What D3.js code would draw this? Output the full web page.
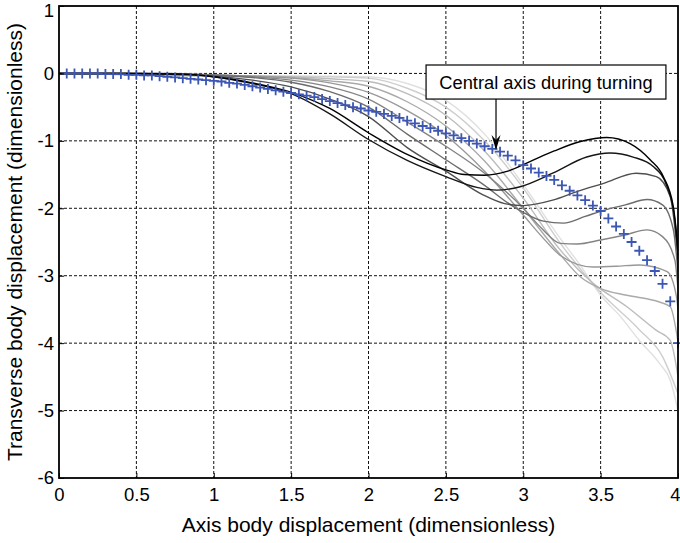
<!DOCTYPE html>
<html>
<head>
<meta charset="utf-8">
<script src="https://cdn.jsdelivr.net/npm/d3@7"></script>
<style>
  body { margin: 0; background: #fff; }
  svg text { font-family: "Liberation Sans", Arial, Helvetica, sans-serif; fill: #000; }
</style>
</head>
<body>
<svg id="chart" width="680" height="543"></svg>
<script>
// Axis ticks and labels
const xTicks = [0, 0.5, 1, 1.5, 2, 2.5, 3, 3.5, 4];
const xTickLabels = ["0", "0.5", "1", "1.5", "2", "2.5", "3", "3.5", "4"];
const yTicks = [-6, -5, -4, -3, -2, -1, 0, 1];
const yTickLabels = ["-6", "-5", "-4", "-3", "-2", "-1", "0", "1"];

// Body outlines at successive instants, [axis, transverse], darkest first
const trace1 = [[0,0],[0.4,0],[0.8,-0.01],[1.0,-0.05],[1.25,-0.14],[1.5,-0.28],[1.75,-0.52],[2.0,-0.88],[2.25,-1.2],[2.5,-1.43],[2.62,-1.5],[2.75,-1.51],[2.9,-1.45],[3.05,-1.3],[3.2,-1.15],[3.37,-1.01],[3.54,-0.95],[3.69,-1.04],[3.82,-1.28],[3.905,-1.53],[3.97,-1.98],[4.0,-2.6]];
const trace2 = [[0,0],[0.4,0],[0.8,-0.01],[1.0,-0.05],[1.25,-0.15],[1.5,-0.3],[1.75,-0.6],[2.0,-0.98],[2.25,-1.29],[2.5,-1.53],[2.7,-1.69],[2.83,-1.73],[2.98,-1.68],[3.19,-1.48],[3.41,-1.24],[3.56,-1.18],[3.71,-1.24],[3.84,-1.38],[3.93,-1.68],[3.98,-2.18],[4.0,-2.7]];
const trace3 = [[0,0],[0.5,0],[0.8,-0.02],[1.0,-0.04],[1.25,-0.1],[1.5,-0.2],[1.75,-0.38],[2.0,-0.64],[2.25,-1.1],[2.5,-1.45],[2.74,-1.8],[2.88,-1.93],[3.0,-1.96],[3.19,-1.88],[3.35,-1.75],[3.52,-1.63],[3.73,-1.48],[3.86,-1.53],[3.95,-1.83],[4.0,-2.75]];
const trace4 = [[0,0],[0.6,0],[0.9,-0.02],[1.25,-0.06],[1.5,-0.13],[1.75,-0.27],[2.0,-0.5],[2.25,-0.9],[2.5,-1.28],[2.75,-1.66],[2.9,-1.92],[3.0,-2.06],[3.13,-2.19],[3.26,-2.22],[3.4,-2.12],[3.52,-2.03],[3.66,-1.95],[3.8,-1.87],[3.9,-1.95],[3.97,-2.32],[4.0,-2.95]];
const trace5 = [[0,0],[0.7,0],[1.0,-0.02],[1.25,-0.05],[1.5,-0.1],[1.75,-0.2],[2.0,-0.38],[2.25,-0.72],[2.5,-1.08],[2.75,-1.48],[3.0,-2.0],[3.12,-2.3],[3.24,-2.52],[3.35,-2.53],[3.5,-2.47],[3.65,-2.4],[3.8,-2.32],[3.9,-2.42],[3.98,-2.77],[4.0,-3.2]];
const trace6 = [[0,0],[0.8,-0.01],[1.0,-0.02],[1.25,-0.04],[1.5,-0.07],[1.75,-0.14],[2.0,-0.28],[2.25,-0.55],[2.5,-0.92],[2.75,-1.45],[3.0,-2.1],[3.12,-2.42],[3.24,-2.7],[3.45,-2.87],[3.6,-2.86],[3.75,-2.84],[3.93,-2.94],[3.99,-3.31],[4.0,-3.5]];
const trace7 = [[0,0],[0.8,-0.02],[1.0,-0.03],[1.25,-0.04],[1.5,-0.06],[1.75,-0.11],[2.0,-0.19],[2.25,-0.42],[2.5,-0.78],[2.75,-1.3],[3.0,-2.0],[3.24,-2.69],[3.37,-3.02],[3.5,-3.19],[3.67,-3.29],[3.88,-3.39],[3.95,-3.46],[4.0,-3.98]];
const trace8 = [[0,0],[0.8,-0.03],[1.0,-0.04],[1.25,-0.04],[1.5,-0.05],[1.75,-0.08],[2.0,-0.12],[2.25,-0.3],[2.5,-0.62],[2.75,-1.15],[3.0,-1.85],[3.24,-2.62],[3.45,-3.11],[3.67,-3.46],[3.86,-3.81],[3.95,-3.96],[4.0,-4.5]];
const trace9 = [[0,0],[0.8,-0.03],[1.25,-0.04],[1.5,-0.04],[1.75,-0.05],[2.0,-0.07],[2.25,-0.22],[2.5,-0.5],[2.75,-1.0],[3.0,-1.7],[3.24,-2.52],[3.5,-3.25],[3.75,-3.8],[3.9,-4.2],[4.0,-4.75]];
const trace10 = [[0,0],[0.8,-0.03],[1.25,-0.04],[1.5,-0.04],[1.75,-0.04],[2.0,-0.05],[2.25,-0.15],[2.5,-0.4],[2.75,-0.9],[3.0,-1.65],[3.24,-2.45],[3.37,-2.85],[3.5,-3.29],[3.63,-3.61],[3.75,-3.96],[3.88,-4.3],[3.95,-4.55],[4.0,-5.0]];
const traces = [trace1, trace2, trace3, trace4, trace5, trace6, trace7, trace8, trace9, trace10];
const traceShades = ["#000000", "#161616", "#4e4e4e", "#6c6c6c", "#848484", "#989898", "#aaaaaa", "#bcbcbc", "#cecece", "#e0e0e0"];

// Central axis during turning, one marker per 0.05 of axis displacement
const centralAxis = [
  [0.05,0],[0.10,0],[0.15,0],[0.20,0],[0.25,0],[0.30,-0.01],[0.35,-0.01],[0.40,-0.01],[0.45,-0.02],[0.50,-0.02],
  [0.55,-0.03],[0.60,-0.03],[0.65,-0.04],[0.70,-0.05],[0.75,-0.06],[0.80,-0.07],[0.85,-0.08],[0.90,-0.09],[0.95,-0.10],[1.00,-0.11],
  [1.05,-0.12],[1.10,-0.14],[1.15,-0.15],[1.20,-0.17],[1.25,-0.19],[1.30,-0.21],[1.35,-0.23],[1.40,-0.25],[1.45,-0.27],[1.50,-0.29],
  [1.55,-0.31],[1.60,-0.33],[1.65,-0.35],[1.70,-0.38],[1.75,-0.41],[1.80,-0.44],[1.85,-0.47],[1.90,-0.50],[1.95,-0.52],[2.00,-0.55],
  [2.05,-0.57],[2.10,-0.60],[2.15,-0.63],[2.20,-0.66],[2.25,-0.70],[2.30,-0.74],[2.35,-0.78],[2.40,-0.81],[2.45,-0.85],[2.50,-0.89],
  [2.55,-0.92],[2.60,-0.96],[2.65,-1.00],[2.70,-1.04],[2.75,-1.08],[2.80,-1.12],[2.85,-1.16],[2.90,-1.22],[2.95,-1.29],[3.00,-1.36],
  [3.05,-1.41],[3.10,-1.47],[3.15,-1.52],[3.20,-1.58],[3.25,-1.66],[3.30,-1.74],[3.35,-1.81],[3.40,-1.88],[3.45,-1.96],[3.50,-2.04],
  [3.55,-2.15],[3.60,-2.27],[3.65,-2.38],[3.70,-2.50],[3.75,-2.63],[3.80,-2.77],[3.85,-2.93],[3.90,-3.12],[3.95,-3.38],[4.00,-4.00]
];

// Callout: box corners and arrow tip in data units
const calloutText = "Central axis during turning";
const calloutBox = [[2.372, 0.125], [3.922, -0.38]];
const calloutTip = [2.824, -1.137];

const svg = d3.select("#chart");
const plotLeft = 59, plotRight = 678, plotTop = 6, plotBottom = 478;
const x = d3.scaleLinear().domain([0, 4]).range([plotLeft, plotRight]);
const y = d3.scaleLinear().domain([-6, 1]).range([plotBottom, plotTop]);

svg.append("defs").append("clipPath").attr("id", "plotArea")
  .append("rect").attr("x", plotLeft).attr("y", plotTop)
  .attr("width", plotRight - plotLeft).attr("height", plotBottom - plotTop);

// dashed grid
const grid = svg.append("g").attr("stroke", "#111").attr("stroke-width", 1).attr("stroke-dasharray", "3,2");
grid.selectAll("line.v").data(xTicks.slice(1, -1)).join("line").attr("class", "v")
  .attr("x1", d => x(d)).attr("x2", d => x(d)).attr("y1", plotTop).attr("y2", plotBottom);
grid.selectAll("line.h").data(yTicks.slice(1, -1)).join("line").attr("class", "h")
  .attr("y1", d => y(d)).attr("y2", d => y(d)).attr("x1", plotLeft).attr("x2", plotRight);

// body outlines
const line = d3.line().x(d => x(d[0])).y(d => y(d[1])).curve(d3.curveMonotoneX);
const traceGroup = svg.append("g").attr("clip-path", "url(#plotArea)").attr("fill", "none").attr("stroke-width", 1.4);
traceGroup.selectAll("path").data(traces.map((t, i) => ({ t, i })).reverse()).join("path")
  .attr("d", d => line(d.t)).attr("stroke", d => traceShades[d.i]);

// central-axis markers
svg.append("g").attr("stroke", "#3c56b4").attr("stroke-width", 1.8).attr("fill", "none")
  .selectAll("path").data(centralAxis).join("path")
  .attr("transform", d => `translate(${x(d[0])},${y(d[1])})`)
  .attr("d", "M-5,0H5M0,-5V5");

// axes
const xAxis = d3.axisBottom(x).tickValues(xTicks).tickFormat((d, i) => xTickLabels[i]).tickSizeInner(-5).tickSizeOuter(0).tickPadding(10);
const yAxis = d3.axisLeft(y).tickValues(yTicks).tickFormat((d, i) => yTickLabels[i]).tickSizeInner(-5).tickSizeOuter(0).tickPadding(5);
const gx = svg.append("g").attr("transform", `translate(0,${plotBottom})`).call(xAxis);
const gy = svg.append("g").attr("transform", `translate(${plotLeft},0)`).call(yAxis);
[gx, gy].forEach(g => {
  g.select(".domain").remove();
  g.selectAll("line").attr("stroke", "#000");
  g.selectAll("text").attr("font-size", 18.5).style("font-family", '"Liberation Sans", Arial, sans-serif');
});
// keep the end labels inside the figure
gy.selectAll(".tick text").filter(d => d === 1).attr("dy", "0.55em");
gx.selectAll(".tick text").filter(d => d === 4).attr("text-anchor", "end").attr("x", 2);

svg.append("rect").attr("x", plotLeft).attr("y", plotTop)
  .attr("width", plotRight - plotLeft).attr("height", plotBottom - plotTop)
  .attr("fill", "none").attr("stroke", "#000").attr("stroke-width", 1.8);

// axis titles
svg.append("text").attr("x", (plotLeft + plotRight) / 2).attr("y", 532).attr("text-anchor", "middle")
  .attr("font-size", 21).text("Axis body displacement (dimensionless)");
svg.append("text").attr("transform", `translate(22,${(plotTop + plotBottom) / 2}) rotate(-90)`).attr("text-anchor", "middle")
  .attr("font-size", 21).text("Transverse body displacement (dimensionless)");

// callout with arrow
const bx0 = x(calloutBox[0][0]), by0 = y(calloutBox[0][1]);
const bx1 = x(calloutBox[1][0]), by1 = y(calloutBox[1][1]);
const call = svg.append("g");
call.append("rect").attr("x", bx0).attr("y", by0).attr("width", bx1 - bx0).attr("height", by1 - by0)
  .attr("fill", "#fff").attr("stroke", "#000").attr("stroke-width", 1.2);
call.append("text").attr("x", (bx0 + bx1) / 2).attr("y", (by0 + by1) / 2 + 6.5).attr("text-anchor", "middle")
  .attr("font-size", 18.3).text(calloutText);
const tx = x(calloutTip[0]), ty = y(calloutTip[1]);
call.append("line").attr("x1", tx).attr("x2", tx).attr("y1", by1).attr("y2", ty - 2).attr("stroke", "#000").attr("stroke-width", 1.2);
call.append("path").attr("d", `M${tx},${ty} L${tx - 4.5},${ty - 15} L${tx},${ty - 10} L${tx + 4.5},${ty - 15} Z`).attr("fill", "#000");
</script>
</body>
</html>
